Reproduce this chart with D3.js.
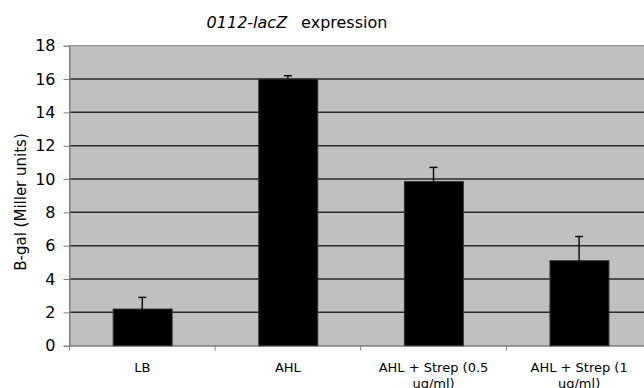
<html>
<head>
<meta content="text/html;charset=utf-8" http-equiv="Content-Type"/>
<style>
  body { margin: 0; background: #fff; }
  text { font-family: "DejaVu Sans", Verdana, sans-serif; fill: #000; }
</style>
</head>
<body>
<svg id="chart" width="644" height="388"></svg>
<script src="https://d3js.org/d3.v7.min.js"></script>
<script>
    // values
    const categories = ["LB", "AHL", "AHL + Strep (0.5 ug/ml)", "AHL + Strep (1 ug/ml)"];
    const values = [2.2, 16.0, 9.85, 5.1];
    const errors = [0.7, 0.2, 0.85, 1.45];
    const yTicks = [0, 2, 4, 6, 8, 10, 12, 14, 16, 18];

    const plotLeft = 69.5, plotTop = 45.7, plotBottom = 345.7, step = 145.6;
    const plotRight = plotLeft + step * categories.length;

    const svg = d3.select('#chart');

    const x = d3.scaleBand().domain(categories).range([plotLeft, plotRight]).padding(0);
    const y = d3.scaleLinear().domain([0, 18]).range([plotBottom, plotTop]);

    // plot background
    svg.append('rect')
        .attr('x', plotLeft).attr('y', plotTop)
        .attr('width', plotRight - plotLeft).attr('height', plotBottom - plotTop)
        .attr('fill', '#c0c0c0')
        .attr('stroke', '#808080').attr('stroke-width', 1);

    // grid lines
    svg.append('g')
        .selectAll('line')
        .data(yTicks.filter(t => t > 0 && t < 18))
        .enter().append('line')
        .attr('x1', plotLeft).attr('x2', plotRight)
        .attr('y1', d => y(d)).attr('y2', d => y(d))
        .attr('stroke', '#2a2a2a').attr('stroke-width', 1.5);

    // y axis
    const yAxis = svg.append('g')
        .attr('transform', `translate(${plotLeft},0)`)
        .call(d3.axisLeft(y).tickValues(yTicks).tickSize(6).tickPadding(8));
    yAxis.select('.domain').attr('stroke', '#808080');
    yAxis.selectAll('.tick line').attr('stroke', '#808080');
    yAxis.selectAll('.tick text')
        .style('font-family', '"DejaVu Sans", Verdana, sans-serif')
        .style('font-size', '16px').attr('fill', '#000');

    // x axis
    const xAxis = svg.append('g')
        .attr('transform', `translate(0,${plotBottom})`)
        .call(d3.axisBottom(x).tickSize(0).tickPadding(17));
    xAxis.select('.domain').attr('stroke', '#808080');
    xAxis.selectAll('.tick text')
        .style('font-family', '"DejaVu Sans", Verdana, sans-serif')
        .style('font-size', '13px').attr('fill', '#000')
        .call(wrap, 125);
    // ticks at category boundaries
    svg.append('g')
        .selectAll('line')
        .data(categories)
        .enter().append('line')
        .attr('x1', d => x(d)).attr('x2', d => x(d))
        .attr('y1', plotBottom).attr('y2', plotBottom + 5)
        .attr('stroke', '#808080');

    // bars
    svg.append('g')
        .selectAll('rect')
        .data(categories)
        .enter().append('rect')
        .attr('x', d => x(d) + x.bandwidth() * 0.3)
        .attr('width', x.bandwidth() * 0.405)
        .attr('y', (d, i) => y(values[i]))
        .attr('height', (d, i) => y(0) - y(values[i]))
        .attr('fill', '#000').attr('stroke', '#333').attr('stroke-width', 1);

    // error bars (upper only)
    const eb = svg.append('g').selectAll('g')
        .data(categories)
        .enter().append('g');
    eb.append('line')
        .attr('x1', d => x(d) + x.bandwidth() / 2).attr('x2', d => x(d) + x.bandwidth() / 2)
        .attr('y1', (d, i) => y(values[i])).attr('y2', (d, i) => y(values[i] + errors[i]))
        .attr('stroke', '#111').attr('stroke-width', 1.5);
    eb.append('line')
        .attr('x1', d => x(d) + x.bandwidth() / 2 - 4).attr('x2', d => x(d) + x.bandwidth() / 2 + 4)
        .attr('y1', (d, i) => y(values[i] + errors[i])).attr('y2', (d, i) => y(values[i] + errors[i]))
        .attr('stroke', '#111').attr('stroke-width', 1.5);

    // title
    const title = svg.append('text')
        .attr('x', 297).attr('y', 28)
        .attr('text-anchor', 'middle')
        .style('font-size', '16px');
    title.append('tspan').style('font-style', 'italic').text('0112-lacZ');
    title.append('tspan').attr('dx', 14).text('expression');

    // y axis title
    svg.append('text')
        .attr('transform', 'translate(26,202) rotate(-90)')
        .attr('text-anchor', 'middle')
        .style('font-size', '15px')
        .text('B-gal (Miller units)');

    function wrap(sel, width) {
        sel.each(function() {
            const text = d3.select(this);
            const words = text.text().split(/\s+/);
            const yy = text.attr('y');
            const dy = parseFloat(text.attr('dy'));
            text.text(null);
            let line = [];
            let lineNo = 0;
            let tspan = text.append('tspan').attr('x', 0).attr('y', yy).attr('dy', dy + 'em');
            words.forEach(w => {
                line.push(w);
                tspan.text(line.join(' '));
                if (tspan.node().getComputedTextLength() > width && line.length > 1) {
                    line.pop();
                    tspan.text(line.join(' '));
                    line = [w];
                    lineNo += 1;
                    tspan = text.append('tspan').attr('x', 0).attr('y', yy)
                        .attr('dy', (dy + lineNo * 1.25) + 'em').text(w);
                }
            });
        });
    }
</script>
</body>
</html>
